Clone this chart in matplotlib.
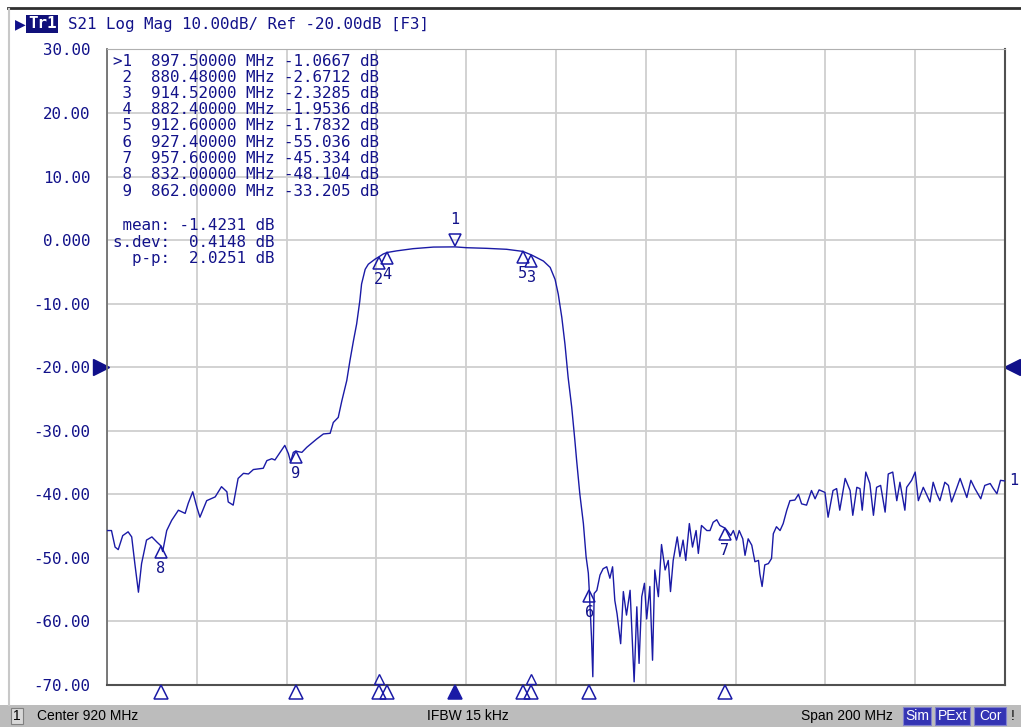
# S21 trace of a band-pass filter, VNA screen look
import matplotlib.pyplot as plt
from matplotlib.patches import Rectangle
from matplotlib.transforms import offset_copy, blended_transform_factory

# trace (MHz, dB)
freq = [820.0, 821.0, 821.8, 822.5, 823.5, 824.7, 825.5, 826.2, 827.0, 827.7,
        828.8, 830.0, 831.1, 832.0, 832.4, 833.3, 834.4, 835.9, 837.4, 838.1,
        839.1, 840.0, 840.7, 842.2, 844.1, 845.5, 846.7, 847.0, 848.1, 848.5,
        849.2, 850.4, 851.5, 852.6, 854.8, 855.6, 856.7, 857.4, 859.6, 860.4,
        860.9, 861.5, 862.0, 863.4, 864.5, 866.7, 868.2, 869.7, 870.4, 871.5,
        872.3, 873.4, 874.1, 874.9, 875.6, 876.3, 876.7, 877.5, 878.2, 879.7,
        880.48, 881.5, 882.4, 884.5, 888.2, 892.7, 897.5, 900.1, 904.6, 909.0,
        912.6, 914.52, 917.2, 918.7, 919.8, 920.5, 921.3, 922.0, 922.7, 923.5,
        924.2, 924.6, 925.3, 926.1, 926.7, 927.2, 927.4, 927.9, 928.2, 928.5,
        929.1, 929.8, 930.5, 931.3, 932.0, 932.6, 933.1, 933.6, 934.4, 935.0,
        935.7, 936.5, 937.0, 937.4, 938.0, 938.5, 939.1, 939.7, 940.2, 940.9,
        941.5, 942.0, 942.8, 943.5, 944.3, 945.0, 945.5, 946.1, 947.0, 947.6,
        948.3, 948.9, 949.7, 950.4, 951.2, 951.7, 952.4, 953.6, 954.3, 955.0,
        955.8, 956.5, 957.6, 958.1, 958.9, 959.5, 960.2, 960.8, 961.6, 962.1,
        962.8, 963.6, 964.3, 965.1, 965.4, 965.9, 966.5, 967.3, 968.0, 968.4,
        969.1, 969.9, 970.6, 971.4, 972.1, 973.2, 974.0, 974.7, 975.8, 976.9,
        977.7, 978.6, 979.9, 980.6, 981.7, 982.5, 983.2, 984.4, 985.5, 986.1,
        987.0, 987.7, 988.2, 989.0, 989.9, 990.7, 991.4, 992.3, 993.3, 994.0,
        995.0, 995.9, 996.6, 997.7, 998.1, 999.2, 1000.0, 1000.7, 1001.8, 1003.3,
        1004.0, 1004.8, 1005.5, 1006.6, 1007.4, 1008.1, 1009.2, 1010.0, 1010.7, 1011.5,
        1012.4, 1013.3, 1014.6, 1015.5, 1016.7, 1017.4, 1018.2, 1019.0, 1020.0]
s21 = [-45.7, -45.7, -48.3, -48.7, -46.5, -45.9, -46.7, -50.9, -55.4, -50.9,
       -47.2, -46.7, -47.5, -48.1, -49.0, -45.7, -44.1, -42.5, -43.0, -41.4,
       -39.6, -42.0, -43.6, -41.0, -40.4, -38.8, -39.6, -41.2, -41.7, -40.2,
       -37.5, -36.7, -36.8, -36.1, -35.9, -34.7, -34.4, -34.6, -32.3, -33.6,
       -34.9, -33.4, -33.2, -33.4, -32.6, -31.3, -30.5, -30.4, -28.7, -27.9,
       -25.3, -22.1, -19.0, -15.8, -13.2, -9.6, -6.9, -4.6, -3.8, -3.0,
       -2.67, -2.2, -1.95, -1.7, -1.35, -1.1, -1.07, -1.2, -1.3, -1.45,
       -1.78, -2.33, -3.3, -4.3, -6.2, -8.5, -12.2, -16.4, -21.6, -26.3,
       -31.5, -34.7, -39.9, -44.6, -49.8, -52.4, -55.0, -62.4, -68.7, -55.6,
       -55.1, -52.7, -51.7, -51.4, -53.2, -51.4, -56.7, -58.8, -63.5, -55.3,
       -59.0, -55.1, -62.9, -69.5, -57.7, -66.6, -56.1, -54.0, -59.6, -54.5,
       -66.1, -51.9, -56.1, -47.9, -51.9, -50.4, -55.3, -50.4, -46.7, -49.8,
       -47.2, -50.4, -44.6, -48.3, -45.7, -49.3, -44.9, -45.7, -45.7, -44.4,
       -44.0, -44.9, -45.3, -45.7, -46.5, -45.7, -47.2, -45.7, -47.0, -49.6,
       -47.0, -48.0, -50.6, -50.4, -52.5, -54.5, -51.1, -50.9, -50.1, -46.2,
       -45.1, -45.7, -44.6, -42.5, -41.0, -40.9, -40.0, -41.5, -41.7, -39.4,
       -40.7, -39.3, -39.7, -43.6, -39.4, -39.1, -42.5, -37.5, -39.4, -43.3,
       -38.9, -39.1, -42.5, -36.5, -38.3, -43.3, -38.9, -38.6, -42.8, -36.8,
       -36.5, -41.0, -38.1, -42.5, -38.9, -37.8, -36.5, -41.0, -38.9, -41.2,
       -38.1, -39.9, -41.0, -38.1, -38.6, -41.2, -39.1, -37.5, -38.9, -40.5,
       -37.8, -39.1, -40.7, -38.6, -38.3, -39.1, -39.9, -37.8, -37.9]

# markers
mk_id = ['1', '2', '3', '4', '5', '6', '7', '8', '9']
mk_freq = [897.5, 880.48, 914.52, 882.4, 912.6, 927.4, 957.6, 832.0, 862.0]
mk_val = [-1.0667, -2.6712, -2.3285, -1.9536, -1.7832, -55.036, -45.334, -48.104, -33.205]
stats = [('mean:', '-1.4231'), ('s.dev:', '0.4148'), ('p-p:', '2.0251')]

yticks = [30, 20, 10, 0, -10, -20, -30, -40, -50, -60, -70]
ytick_labels = ['30.00', '20.00', '10.00', '0.000', '-10.00', '-20.00',
                '-30.00', '-40.00', '-50.00', '-60.00', '-70.00']

W, H = 1021, 727
BLUE = '#1a1aa6'
TXT = '#12128a'
MONO = 'DejaVu Sans Mono'

def fx(px): return px / W
def fy(py): return 1 - py / H

fig = plt.figure(figsize=(W / 100, H / 100), dpi=100, facecolor='white')
ax = fig.add_axes([fx(107), fy(685), fx(1005) - fx(107), fy(49.4) - fy(685)])

ax.plot(freq, s21, color=BLUE, lw=1.0, zorder=3)
ax.set_xlim(820, 1020)
ax.set_ylim(-70, 30)
ax.set_xticks([820 + 20 * i for i in range(11)])
ax.set_yticks(yticks)
ax.set_yticklabels(ytick_labels, family=MONO, fontsize=11.4, color=TXT)
ax.set_xticklabels([])
ax.tick_params(length=0, pad=12)
ax.grid(True, color='#cfcfcf', lw=1.3)
for s in ax.spines.values():
    s.set_color('#b0b0b0')
ax.spines['left'].set_color('#707070')
ax.spines['bottom'].set_color('#505050')
ax.spines['right'].set_color('#505050')
ax.spines['left'].set_linewidth(1.3)
ax.spines['bottom'].set_linewidth(1.5)
ax.spines['right'].set_linewidth(1.5)

# markers on trace
below = offset_copy(ax.transData, fig=fig, x=0, y=-6, units='dots')
above = offset_copy(ax.transData, fig=fig, x=0, y=7, units='dots')
for i, (f, v) in enumerate(zip(mk_freq, mk_val)):
    if i == 0:
        ax.plot([f], [v], marker='v', ms=9, mfc='none', mec=BLUE, mew=1.1,
                transform=above, clip_on=False, zorder=4)
        ax.annotate(mk_id[i], (f, v), xytext=(0, 20), textcoords='offset points',
                    ha='center', va='center', family=MONO, fontsize=11, color=TXT)
    else:
        ax.plot([f], [v], marker='^', ms=9, mfc='none', mec=BLUE, mew=1.1,
                transform=below, clip_on=False, zorder=4)
        ax.annotate(mk_id[i], (f, v), xytext=(0, -16), textcoords='offset points',
                    ha='center', va='center', family=MONO, fontsize=11, color=TXT)

# active marker tag at the trace end
ax.annotate('1', (freq[-1], s21[-1]), xytext=(3, 0), textcoords='offset points',
            ha='left', va='center', family=MONO, fontsize=11, color=TXT,
            annotation_clip=False)

# marker row under the grid
bt = blended_transform_factory(ax.transData, ax.transAxes)
row = offset_copy(bt, fig=fig, x=0, y=-7, units='dots')
for i, f in enumerate(mk_freq):
    ax.plot([f], [0], marker='^', ms=10, mfc=BLUE if i == 0 else 'none',
            mec=BLUE, mew=1.1, transform=row, clip_on=False, zorder=4)
inner = offset_copy(bt, fig=fig, x=0, y=6, units='dots')
for f in (mk_freq[1], mk_freq[2]):
    ax.plot([f], [0], marker='^', ms=7, mfc='none', mec=BLUE, mew=1.0,
            transform=inner, clip_on=False, zorder=4)

# reference level arrows
ref = blended_transform_factory(ax.transAxes, ax.transData)
ax.plot([0], [-20], marker='>', ms=11, color='#10108a',
        transform=offset_copy(ref, fig=fig, x=-6, y=0, units='dots'), clip_on=False)
ax.plot([1], [-20], marker='<', ms=11, color='#10108a',
        transform=offset_copy(ref, fig=fig, x=7, y=0, units='dots'), clip_on=False)

# marker table
for i in range(len(mk_id)):
    lead = '>' if i == 0 else ' '
    line = f'{lead}{mk_id[i]}  {mk_freq[i]:.5f} MHz {mk_val[i]:.4f} dB'
    if abs(mk_val[i]) >= 10:
        line = f'{lead}{mk_id[i]}  {mk_freq[i]:.5f} MHz {mk_val[i]:.3f} dB'
    fig.text(fx(113), fy(61 + 16.25 * i), line, family=MONO, fontsize=11.4,
             color=TXT, va='center', ha='left')
for j, (name, val) in enumerate(stats):
    fig.text(fx(113), fy(226 + 16.25 * j), f'{name:>6} {val:>7} dB', family=MONO,
             fontsize=11.4, color=TXT, va='center', ha='left')

# header line
fig.add_artist(plt.Line2D([fx(8), 1], [fy(8), fy(8)], color='#303030', lw=2))
fig.add_artist(plt.Line2D([fx(9), fx(9)], [fy(9), fy(705)], color='#c8c8c8', lw=1.5))
fig.text(fx(15), fy(24), '\u25B6', family='DejaVu Sans', fontsize=10, color='#10108a',
         va='center', ha='left')
fig.text(fx(28), fy(24), 'Tr1', family=MONO, fontsize=11.4, color='white',
         va='center', ha='left', fontweight='bold',
         bbox=dict(boxstyle='square,pad=0.1', fc='#10107a', ec='none'))
fig.text(fx(68), fy(24), 'S21 Log Mag 10.00dB/ Ref -20.00dB [F3]', family=MONO,
         fontsize=11.4, color=TXT, va='center', ha='left')

# status bar
fig.add_artist(Rectangle((0, 0), 1, fy(705), transform=fig.transFigure,
                         fc='#bcbcbc', ec='none', zorder=0))
fig.add_artist(Rectangle((fx(11), fy(724)), fx(12), fy(708) - fy(724),
                         transform=fig.transFigure, fc='#d8d8d8', ec='#808080', lw=0.8))
SB = dict(family='Liberation Sans', fontsize=10, color='black', va='center')
fig.text(fx(17), fy(716), '1', ha='center', **SB)
fig.text(fx(37), fy(716), 'Center 920 MHz', ha='left', **SB)
fig.text(fx(468), fy(716), 'IFBW 15 kHz', ha='center', **SB)
fig.text(fx(893), fy(716), 'Span 200 MHz', ha='right', **SB)
for label, x0, x1 in [('Sim', 903, 931), ('PExt', 935, 970), ('Cor', 974, 1006)]:
    fig.add_artist(Rectangle((fx(x0), fy(725)), fx(x1 - x0), fy(707) - fy(725),
                             transform=fig.transFigure, fc='#3434b4', ec='#8080d0', lw=0.8))
    fig.text(fx((x0 + x1) / 2), fy(716), label, ha='center', family='Liberation Sans',
             fontsize=10, color='white', va='center')
fig.text(fx(1013), fy(716), '!', ha='center', **SB)

fig.savefig('out.png', dpi=100, facecolor='white')
